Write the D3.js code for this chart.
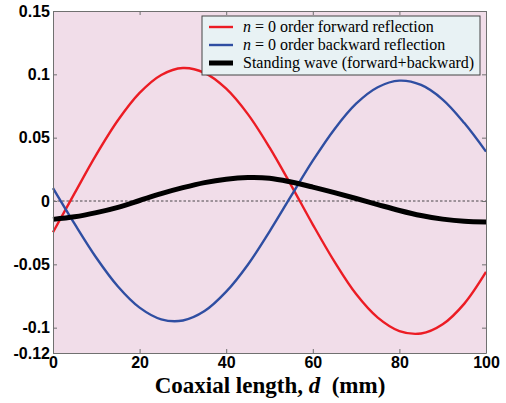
<!DOCTYPE html>
<html>
<head>
<meta charset="utf-8">
<script src="https://cdn.jsdelivr.net/npm/d3@7"></script>
<style>
  body { margin: 0; background: #fff; }
  svg { display: block; }
</style>
</head>
<body>
<svg id="chart" width="506" height="403"></svg>
<script>
// coaxial length (mm)
const xs = [0, 5, 10, 15, 20, 25, 30, 35, 40, 45, 50, 55, 60, 65, 70, 75, 80, 85, 90, 95, 100];
const forward = [-0.0247, 0.0062, 0.0366, 0.0637, 0.0853, 0.0995, 0.1050, 0.1012, 0.0887, 0.0686, 0.0423,
  0.0124, -0.0186, -0.0479, -0.0735, -0.0921, -0.1027, -0.1046, -0.0973, -0.0810, -0.0560];
const backward = [0.0102, -0.0181, -0.0448, -0.0675, -0.0842, -0.0934, -0.0943, -0.0869, -0.0716, -0.0503, -0.0241,
  0.0040, 0.0318, 0.0567, 0.0768, 0.0898, 0.0950, 0.0916, 0.0801, 0.0615, 0.0390];
const standing = [-0.0145, -0.0125, -0.0092, -0.0050, 0.0004, 0.0058, 0.0105, 0.0145, 0.0172, 0.0185, 0.0180,
  0.0150, 0.0110, 0.0066, 0.0020, -0.0028, -0.0075, -0.0115, -0.0143, -0.0160, -0.0165];

const xTicks = [0, 20, 40, 60, 80, 100];
const yTicks = [0.15, 0.1, 0.05, 0, -0.05, -0.1, -0.12];

const width = 506, height = 403;
const margin = { top: 11, right: 20, bottom: 50, left: 53 };

const svg = d3.select('#chart');

const x = d3.scaleLinear().domain([0, 100]).range([margin.left, width - margin.right]);
const y = d3.scaleLinear().domain([-0.12, 0.15]).range([height - margin.bottom, margin.top]);

// plot background
svg.append('rect')
  .attr('x', x(0)).attr('y', y(0.15))
  .attr('width', x(100) - x(0)).attr('height', y(-0.12) - y(0.15))
  .attr('fill', '#f1dde9');

// zero line
svg.append('line')
  .attr('x1', x(0)).attr('x2', x(100))
  .attr('y1', y(0)).attr('y2', y(0))
  .attr('stroke', '#222').attr('stroke-width', 0.8)
  .attr('stroke-dasharray', '2.5,2');

const line = (vals) => d3.line()
  .x((d, i) => x(xs[i]))
  .y(d => y(d))
  .curve(d3.curveCatmullRom)(vals);

svg.append('path').attr('d', line(forward))
  .attr('fill', 'none').attr('stroke', '#ec1c24').attr('stroke-width', 2.4);
svg.append('path').attr('d', line(backward))
  .attr('fill', 'none').attr('stroke', '#2f4ea2').attr('stroke-width', 2.4);
svg.append('path').attr('d', line(standing))
  .attr('fill', 'none').attr('stroke', '#000').attr('stroke-width', 5);

// axes (ticks pointing inward, mirrored on top/right)
const tickFont = g => g.selectAll('text')
  .attr('font-family', '"Liberation Sans", Arial, sans-serif')
  .attr('font-weight', 'bold')
  .attr('font-size', 16)
  .attr('fill', '#000');

svg.append('g')
  .attr('transform', `translate(0,${y(-0.12)})`)
  .call(d3.axisBottom(x).tickValues(xTicks).tickSizeInner(-4).tickSizeOuter(0).tickPadding(4).tickFormat(d3.format('d')))
  .call(tickFont);

svg.append('g')
  .attr('transform', `translate(${x(0)},0)`)
  .call(d3.axisLeft(y).tickValues(yTicks).tickSizeInner(-4).tickSizeOuter(0).tickPadding(3).tickFormat(d => d === 0 ? '0' : String(d)))
  .call(tickFont);

svg.append('g')
  .attr('transform', `translate(0,${y(0.15)})`)
  .call(d3.axisTop(x).tickValues(xTicks).tickSizeInner(-4).tickSizeOuter(0).tickFormat(''));

svg.append('g')
  .attr('transform', `translate(${x(100)},0)`)
  .call(d3.axisRight(y).tickValues(yTicks).tickSizeInner(-4).tickSizeOuter(0).tickFormat(''));

svg.selectAll('.domain, .tick line').attr('stroke', '#707070');

// x label
const xl = svg.append('text')
  .attr('x', 270).attr('y', 393)
  .attr('text-anchor', 'middle')
  .attr('font-family', '"Liberation Serif", "Times New Roman", serif')
  .attr('font-weight', 'bold')
  .attr('font-size', 23);
xl.append('tspan').text('Coaxial length, ');
xl.append('tspan').attr('font-style', 'italic').text('d');
xl.append('tspan').text('\u00a0 (mm)');

// legend
const legendItems = [
  { pre: 'n', text: ' = 0 order forward reflection', color: '#ec1c24', w: 2.4 },
  { pre: 'n', text: ' = 0 order backward reflection', color: '#2f4ea2', w: 2.4 },
  { pre: '', text: 'Standing wave (forward+backward)', color: '#000', w: 5 }
];

const legend = svg.append('g');
legend.append('rect')
  .attr('x', 202).attr('y', 16).attr('width', 278).attr('height', 59)
  .attr('fill', '#e8f2f4').attr('stroke', '#444').attr('stroke-width', 1);

legendItems.forEach((it, i) => {
  const cy = 27 + i * 18;
  legend.append('line')
    .attr('x1', 209).attr('x2', 233).attr('y1', cy).attr('y2', cy)
    .attr('stroke', it.color).attr('stroke-width', it.w);
  const t = legend.append('text')
    .attr('x', 243).attr('y', cy + 5)
    .attr('font-family', '"Liberation Serif", "Times New Roman", serif')
    .attr('font-size', 16);
  if (it.pre) t.append('tspan').attr('font-style', 'italic').text(it.pre);
  t.append('tspan').text(it.text);
});
</script>
</body>
</html>
